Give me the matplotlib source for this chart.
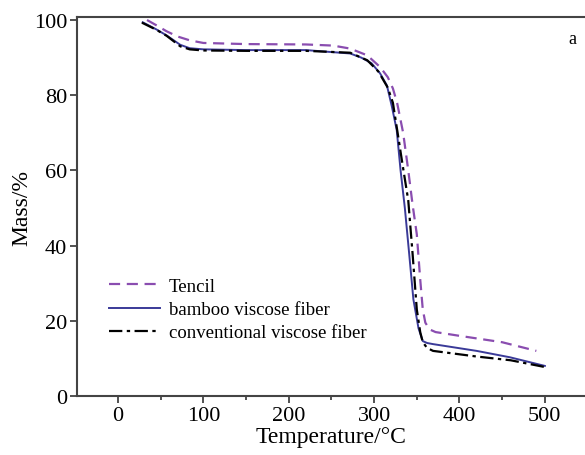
import numpy as np
import matplotlib.pyplot as plt

# TGA curves
tencil_t = [34, 45, 57, 70, 84, 100, 150, 220, 252, 272, 292, 307, 316, 322, 327, 334, 340,
            345, 350, 354, 357, 360, 365, 372, 400, 450, 490]
tencil_m = [100, 98.6, 97, 95.6, 94.6, 93.9, 93.6, 93.5, 93.2, 92.4, 90.6, 87.5, 84.8, 81.8, 77.9, 70, 60,
            51, 43, 31, 23, 19.5, 17.7, 17.0, 16.0, 14.3, 12]

bamboo_t = [29, 45, 57, 73, 84, 100, 150, 220, 272, 285, 297, 307, 315, 321, 326.5, 331, 336,
            341, 346, 352, 357, 362, 369, 420, 459, 500]
bamboo_m = [99.4, 97.5, 95.9, 93.4, 92.5, 92.2, 92.0, 92.0, 91.1, 90, 88.5, 85.8, 82.6, 76.8, 70.7, 60, 50,
            38, 25.7, 18, 14.6, 14.1, 13.8, 12, 10.3, 8]

conv_t = [28, 45, 57, 73, 84, 100, 150, 220, 272, 292, 305, 316, 322, 326.5, 333, 340,
          345, 350, 354, 357, 362, 369, 420, 460, 500]
conv_m = [99.3, 97.4, 95.8, 93.0, 92.2, 91.9, 91.8, 91.8, 91.3, 89.3, 86.3, 82, 78, 71.5, 62, 52,
          38, 23, 17, 14.3, 12.8, 12, 10.5, 9.5, 7.7]

plt.rcParams['font.family'] = ['Liberation Serif', 'DejaVu Serif']

fig = plt.figure(figsize=(5.85, 4.56), dpi=100)
ax = fig.add_axes([0.1316, 0.1294, 0.8684, 0.8311])

ax.plot(tencil_t, tencil_m, color='#8a4db0', lw=1.6, ls=(0, (5, 3)), label='Tencil')
ax.plot(bamboo_t, bamboo_m, color='#3a3a98', lw=1.4, ls='-', label='bamboo viscose fiber')
ax.plot(conv_t, conv_m, color='black', lw=1.6, ls=(0, (6, 2, 1.5, 2)), label='conventional viscose fiber')

ax.set_xlim(-48, 547)
ax.set_ylim(0, 100.8)
ax.set_xticks([0, 100, 200, 300, 400, 500])
ax.set_xticks([50, 150, 250, 350, 450], minor=True)
ax.set_yticks([0, 20, 40, 60, 80, 100])
ax.tick_params(axis='both', which='both', direction='out', labelsize=16, color='#333333', pad=2)
ax.tick_params(which='major', length=5, width=1.2)
ax.tick_params(which='minor', length=3, width=1.2)
ax.spines['right'].set_visible(False)
for s in ['left', 'bottom', 'top']:
    ax.spines[s].set_linewidth(1.5)
    ax.spines[s].set_color('#444444')

ax.set_xlabel('Temperature/°C', fontsize=17, labelpad=1)
ax.set_ylabel('Mass/%', fontsize=17, labelpad=1)
ax.text(527, 94, 'a', fontsize=13)

ax.legend(loc='lower left', bbox_to_anchor=(0.03, 0.1), frameon=False,
          fontsize=13.5, handlelength=2.7, handletextpad=0.5, labelspacing=0.32)

fig.savefig('out.png', dpi=100)
